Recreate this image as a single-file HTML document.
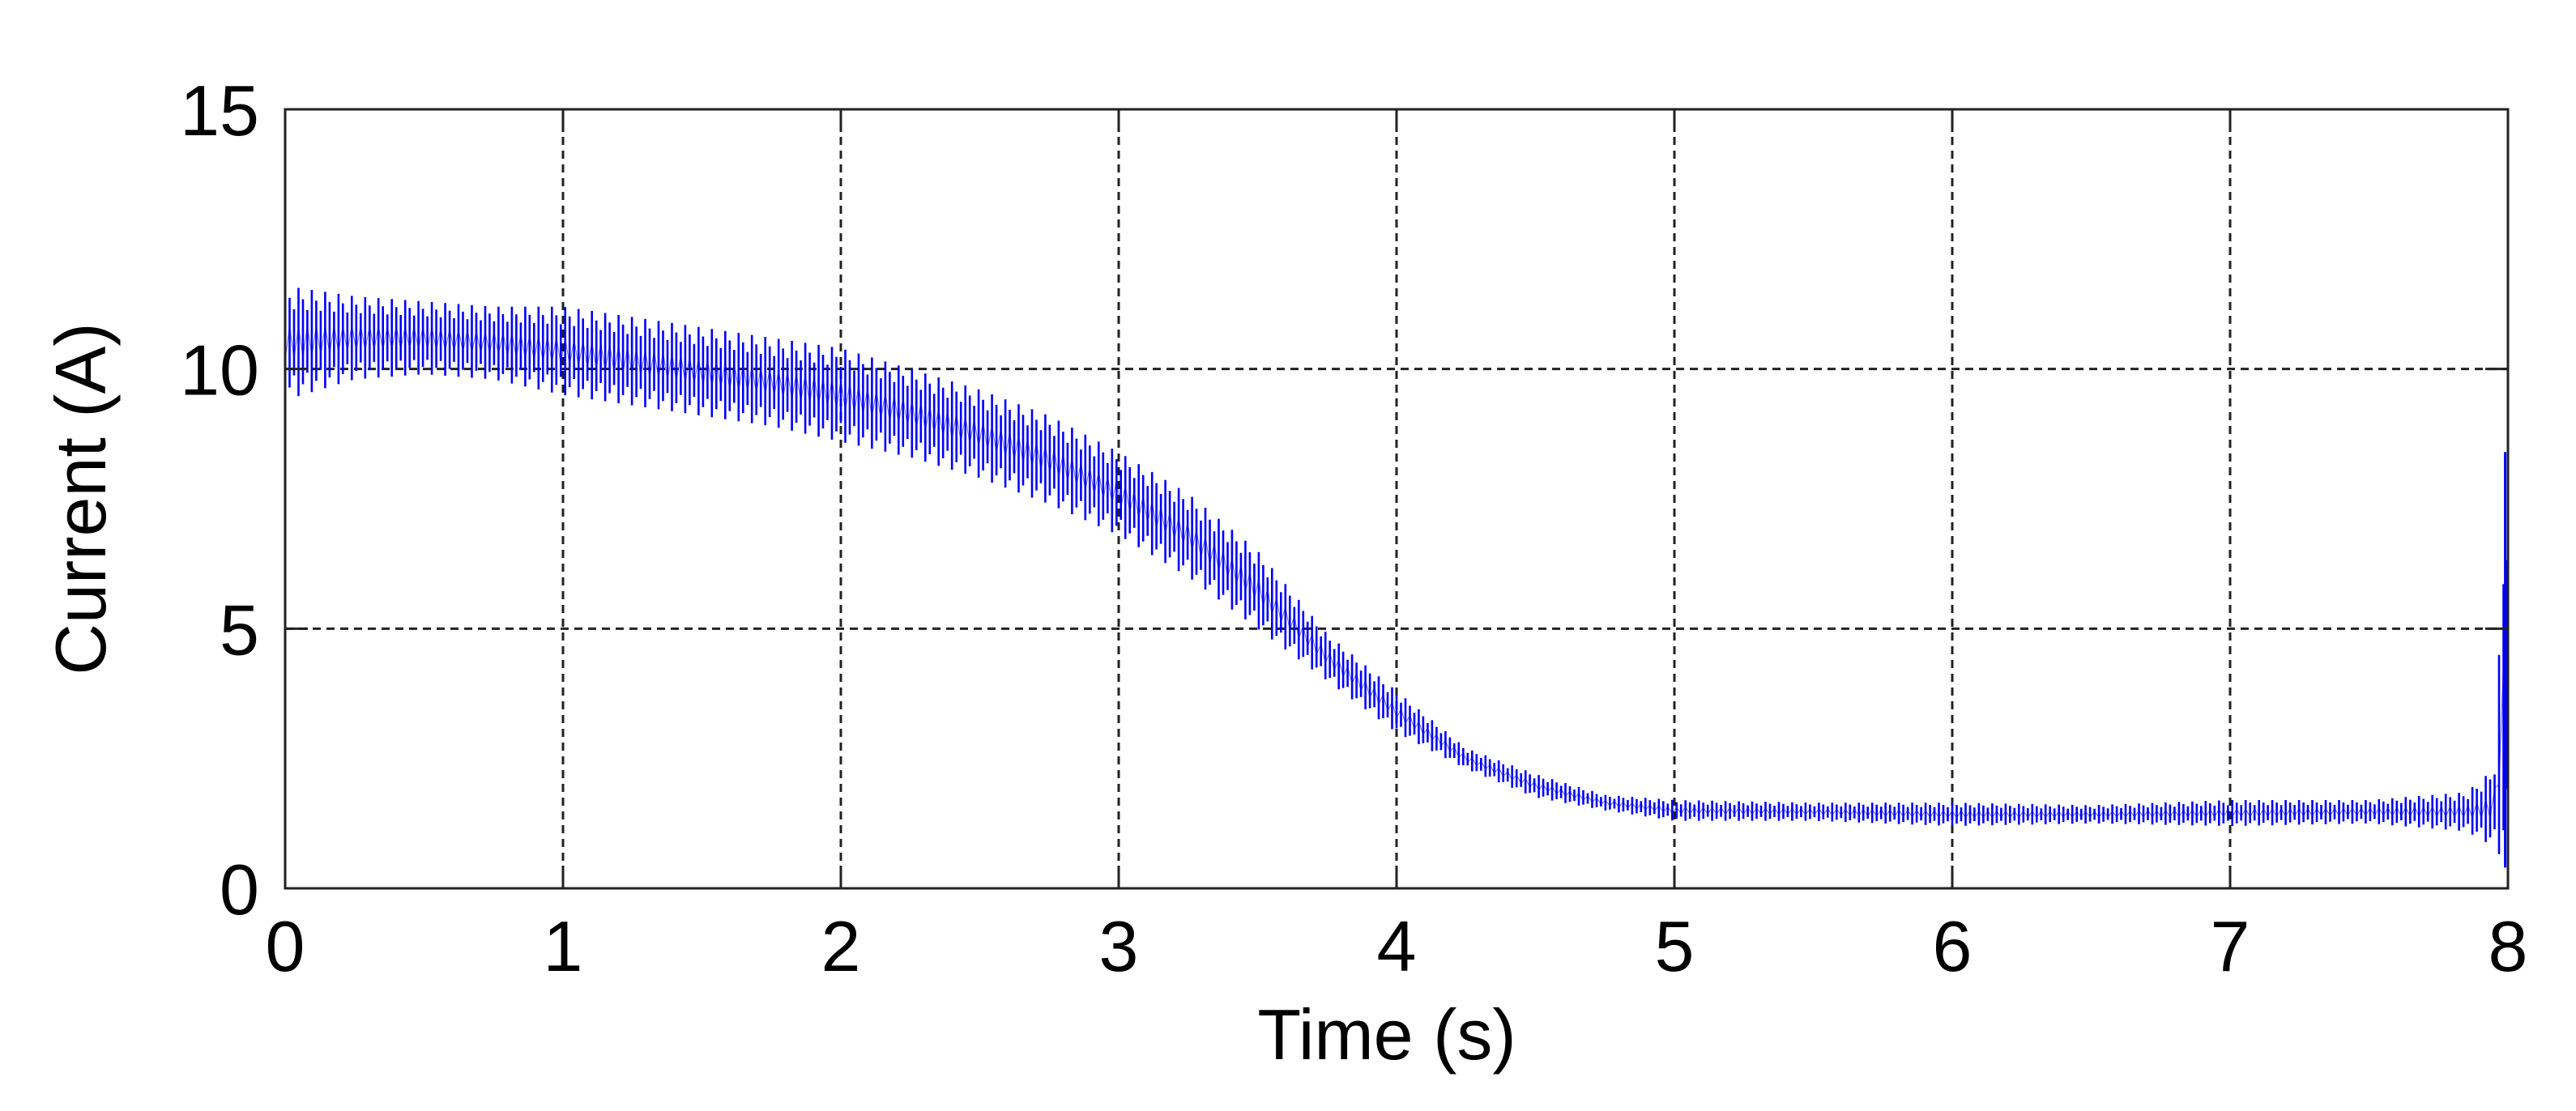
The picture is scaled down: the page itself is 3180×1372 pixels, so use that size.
<!DOCTYPE html>
<html><head><meta charset="utf-8"><style>
body{margin:0;background:#fff;}
svg{display:block;font-family:"Liberation Sans",Arial,sans-serif;}
</style></head><body>
<svg id="chart" width="3180" height="1372" viewBox="0 0 3180 1372" xmlns="http://www.w3.org/2000/svg">
<rect x="0" y="0" width="3180" height="1372" fill="#fff"/>
<g id="grid"></g>
<g id="series"></g>
<rect x="352" y="135" width="2744" height="962" fill="none" stroke="#222" stroke-width="3"/>
<g id="ticks"></g>
<text x="1712" y="1308" font-size="88" text-anchor="middle" fill="#000">Time (s)</text>
<text x="0" y="0" font-size="88" text-anchor="middle" fill="#000" transform="translate(130,616) rotate(-90)">Current (A)</text>
</svg>
<script>
const xTicks = [0,1,2,3,4,5,6,7,8];
const yTicks = [0,5,10,15];
const envT   = [0,0.25,0.5,0.75,1.0,1.25,1.5,1.75,2.0,2.25,2.5,2.75,3.0,3.25,3.5,3.75,4.0,4.25,4.5,4.75,5.0,5.5,6.0,6.5,7.0,7.5,7.85,7.95,8.0];
const envLo  = [9.4,9.8,9.9,9.8,9.5,9.3,9.1,8.9,8.6,8.3,7.9,7.4,6.8,6.0,5.0,4.0,3.0,2.3,1.75,1.5,1.3,1.3,1.2,1.25,1.2,1.25,1.1,0.8,0.4];
const envHi  = [11.6,11.4,11.3,11.2,11.2,11.0,10.8,10.6,10.4,10.0,9.6,9.1,8.4,7.6,6.5,4.9,3.8,2.7,2.2,1.8,1.7,1.65,1.65,1.6,1.7,1.7,1.85,2.3,8.4];
const STEP = 0.016;
const X0=352,X1=3096,Y0=1097,Y1=135;
const xs = t => X0 + (t-0)/(8-0)*(X1-X0);
const ys = v => Y0 - (v-0)/(15-0)*(Y0-Y1);
const NS="http://www.w3.org/2000/svg";
function interp(arr,t){for(let i=0;i<envT.length-1;i++){if(t<=envT[i+1]){const f=(t-envT[i])/(envT[i+1]-envT[i]);return arr[i]+f*(arr[i+1]-arr[i]);}}return arr[arr.length-1];}
const grid=document.getElementById('grid'), ticks=document.getElementById('ticks'), series=document.getElementById('series');
xTicks.forEach(v=>{
  const x=xs(v);
  if(v>0&&v<8){const l=document.createElementNS(NS,'line');
  
  
  l.setAttribute('x1',x);l.setAttribute('x2',x);l.setAttribute('y1',Y1);l.setAttribute('y2',Y0);
  l.setAttribute('stroke','#222');l.setAttribute('stroke-width','3');l.setAttribute('stroke-dasharray','10 7');grid.appendChild(l);
  const tk=document.createElementNS(NS,'path');
  
  
  tk.setAttribute('d',`M${x} ${Y0}V${Y0-28}M${x} ${Y1}V${Y1+28}`);tk.setAttribute('stroke','#222');tk.setAttribute('stroke-width','3');ticks.appendChild(tk);}
  const t=document.createElementNS(NS,'text');
  
  
  t.setAttribute('x',x);t.setAttribute('y',1199);t.setAttribute('font-size','88');t.setAttribute('text-anchor','middle');t.textContent=v;ticks.appendChild(t);
});
yTicks.forEach(v=>{
  const y=ys(v);
  if(v>0&&v<15){const l=document.createElementNS(NS,'line');
  
  
  l.setAttribute('x1',X0);l.setAttribute('x2',X1);l.setAttribute('y1',y);l.setAttribute('y2',y);
  l.setAttribute('stroke','#222');l.setAttribute('stroke-width','3');l.setAttribute('stroke-dasharray','10 7');grid.appendChild(l);
  const tk=document.createElementNS(NS,'path');
  
  
  tk.setAttribute('d',`M${X0} ${y}H${X0+28}M${X1} ${y}H${X1-28}`);tk.setAttribute('stroke','#222');tk.setAttribute('stroke-width','3');ticks.appendChild(tk);}
  const t=document.createElementNS(NS,'text');
  
  
  t.setAttribute('x',320);t.setAttribute('y',y+32);t.setAttribute('font-size','88');t.setAttribute('text-anchor','end');t.textContent=v;ticks.appendChild(t);
});
let d='', m='';
const n=Math.round(8/STEP);
for(let i=0;i<=n;i++){
  const t=Math.min(i*STEP,7.995);
  const lo=interp(envLo,t), hi=interp(envHi,t), mid=(lo+hi)/2;
  const k=(i%3===0)?1:(i%3===1?0.8:0.6);
  const a=mid-(mid-lo)*k, b=mid+(hi-mid)*k;
  const x=xs(t);
  d+=`M${x.toFixed(1)} ${ys(a).toFixed(1)}V${ys(b).toFixed(1)}`;
  m+=(i===0?'M':'L')+x.toFixed(1)+' '+ys(mid+((i%2)?0.15:-0.15)*(hi-lo)).toFixed(1);
}
const p=document.createElementNS(NS,'path');


p.setAttribute('d',d);p.setAttribute('stroke','#0000ff');p.setAttribute('stroke-width','2.6');p.setAttribute('fill','none');series.appendChild(p);
const pm=document.createElementNS(NS,'path');


pm.setAttribute('d',m);pm.setAttribute('stroke','#0000ff');pm.setAttribute('stroke-width','1');pm.setAttribute('stroke-opacity','0.6');pm.setAttribute('fill','none');series.appendChild(pm);
const sp=document.createElementNS(NS,'line');


sp.setAttribute('x1',xs(7.99));sp.setAttribute('x2',xs(7.99));sp.setAttribute('y1',ys(envLo[envLo.length-1]));sp.setAttribute('y2',ys(envHi[envHi.length-1]));
sp.setAttribute('stroke','#0000ff');sp.setAttribute('stroke-width','3');series.appendChild(sp);
</script>
</body></html>
